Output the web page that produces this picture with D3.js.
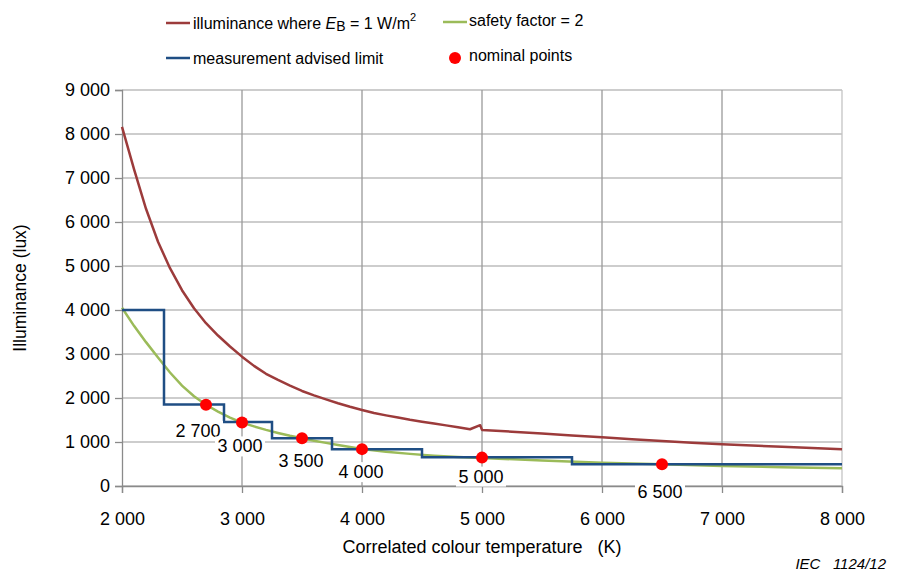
<!DOCTYPE html>
<html><head><meta charset="utf-8">
<script src="https://cdn.jsdelivr.net/npm/d3@7"></script>
<style>
body{margin:0;background:#fff;}
svg{display:block;font-family:"Liberation Sans",Arial,sans-serif;}
</style></head>
<body>
<svg id="chart" width="901" height="570"></svg>
<script>
// ---- data ----
const redT = [2000,2100,2200,2300,2400,2500,2600,2700,2800,2900,3000,3100,3200,3300,3400,3500,3600,3700,3800,3900,4000,4100,4200,4300,4400,4500,4600,4700,4800,4900,4985,5000,5250,5500,5750,6000,6250,6500,6750,7000,7250,7500,7750,8000];
const redE = [8160,7200,6300,5550,4950,4450,4040,3700,3420,3170,2940,2730,2550,2410,2280,2160,2060,1970,1880,1800,1727,1660,1605,1555,1505,1462,1420,1378,1335,1290,1382,1275,1235,1192,1150,1106,1065,1025,985,947,918,890,862,834];
const greenT = [2000,2100,2200,2300,2400,2500,2600,2700,2800,2900,3000,3100,3200,3300,3400,3500,3600,3700,3800,3900,4000,4200,4400,4600,4800,5000,5500,6000,6500,7000,7500,8000];
const greenE = [4050,3640,3270,2920,2580,2280,2040,1845,1690,1555,1440,1355,1275,1205,1140,1085,1030,980,930,885,840,780,730,690,660,635,580,530,495,455,428,402];
const stepT = [2000,2350,2850,3250,3750,4500,5750,8000];
const stepE = [4000,1850,1455,1085,838,652,495,495];
const nominalT = [2700,3000,3500,4000,5000,6500];
const nominalE = [1845,1445,1085,838,645,495];
const xTicks = [2000,3000,4000,5000,6000,7000,8000];
const yTicks = [0,1000,2000,3000,4000,5000,6000,7000,8000,9000];

// ---- layout ----
const svg = d3.select("#chart");
const L = 122, R = 842, T = 90, B = 486;
const x = d3.scaleLinear().domain([2000,8000]).range([L,R]);
const y = d3.scaleLinear().domain([0,9000]).range([B,T]);
const fmt = d => d3.format(",")(d).replace(/,/g," ");

// gridlines
svg.append("g").selectAll("line").data(yTicks).join("line")
  .attr("x1",L).attr("x2",R).attr("y1",d=>y(d)).attr("y2",d=>y(d))
  .attr("stroke","#bdbdbd").attr("stroke-width",1.3);
svg.append("g").selectAll("line").data(xTicks.slice(1)).join("line")
  .attr("x1",d=>x(d)).attr("x2",d=>x(d)).attr("y1",T).attr("y2",B)
  .attr("stroke",(d,i)=> d===8000 ? "#c4c4c4" : "#9a9a9a").attr("stroke-width",1.3);

// y axis
const yAx = svg.append("g").attr("transform",`translate(${L},0)`)
  .call(d3.axisLeft(y).tickValues(yTicks).tickFormat(fmt).tickSize(7).tickPadding(5));
yAx.select(".domain").attr("stroke","#8a8a8a").attr("stroke-width",1.3);
yAx.selectAll(".tick line").attr("stroke","#8a8a8a").attr("stroke-width",1.3);
yAx.selectAll("text").attr("font-size",18).attr("fill","#000").attr("font-family","Liberation Sans, Arial");

// x axis
const xAx = svg.append("g").attr("transform",`translate(0,${B})`)
  .call(d3.axisBottom(x).tickValues(xTicks).tickFormat(fmt).tickSize(7).tickPadding(19));
xAx.select(".domain").attr("stroke","#8a8a8a").attr("stroke-width",1.3);
xAx.selectAll(".tick line").attr("stroke","#8a8a8a").attr("stroke-width",1.3);
xAx.selectAll("text").attr("font-size",18).attr("fill","#000").attr("font-family","Liberation Sans, Arial");

// lines
const line = d3.line().x(d=>x(d[0])).y(d=>y(d[1]));
svg.append("path").datum(greenT.map((t,i)=>[t,greenE[i]]))
  .attr("d",line).attr("fill","none").attr("stroke","#9bbb59").attr("stroke-width",2.5);
svg.append("path").datum(redT.map((t,i)=>[t,redE[i]]))
  .attr("d",line).attr("fill","none").attr("stroke","#9c3b3b").attr("stroke-width",2.5).attr("stroke-linejoin","round");
svg.append("path").datum(stepT.map((t,i)=>[t,stepE[i]]))
  .attr("d",line.curve(d3.curveStepAfter)).attr("fill","none").attr("stroke","#1f4e84").attr("stroke-width",2.5);

// nominal points
svg.append("g").selectAll("circle").data(nominalT).join("circle")
  .attr("cx",d=>x(d)).attr("cy",(d,i)=>y(nominalE[i])).attr("r",6).attr("fill","#ff0000");

// labels
const lblDx = [-8,-2,-1,-1,-1,-2];
const lblDy = [26,24,23,23,19,28];
const lg = svg.append("g");
nominalT.forEach((t,i)=>{
  const cx = x(t)+lblDx[i], cy = y(nominalE[i])+lblDy[i];
  lg.append("rect").attr("x",cx-25).attr("y",cy-10).attr("width",50).attr("height",20).attr("fill","#fff");
  lg.append("text").attr("x",cx).attr("y",cy).attr("text-anchor","middle").attr("dominant-baseline","central")
    .attr("font-size",18).text(fmt(t));
});

// axis titles
svg.append("text").attr("transform","translate(20,288) rotate(-90)").attr("text-anchor","middle")
  .attr("dominant-baseline","central").attr("font-size",17.5).text("Illuminance (lux)");
svg.append("text").attr("x",482).attr("y",547).attr("text-anchor","middle").attr("dominant-baseline","central")
  .attr("font-size",18).style("white-space","pre").text("Correlated colour temperature   (K)");
svg.append("text").attr("x",886).attr("y",563).attr("text-anchor","end").attr("dominant-baseline","central")
  .attr("font-size",15).attr("font-style","italic").style("white-space","pre").text("IEC   1124/12");

// legend
const leg = svg.append("g").attr("font-size",16);
leg.append("line").attr("x1",166).attr("x2",190).attr("y1",23).attr("y2",23).attr("stroke","#9c3b3b").attr("stroke-width",2.5);
const t1 = leg.append("text").attr("x",193).attr("y",23).attr("dominant-baseline","central");
t1.append("tspan").text("illuminance where ");
t1.append("tspan").attr("font-style","italic").text("E");
t1.append("tspan").attr("baseline-shift","-3").attr("font-size",14).text("B");
t1.append("tspan").text(" = 1 W/m");
t1.append("tspan").attr("baseline-shift","6").attr("font-size",11).text("2");
leg.append("line").attr("x1",443).attr("x2",467).attr("y1",22).attr("y2",22).attr("stroke","#9bbb59").attr("stroke-width",2.5);
leg.append("text").attr("x",469).attr("y",20).attr("dominant-baseline","central").text("safety factor = 2");
leg.append("line").attr("x1",166).attr("x2",190).attr("y1",58).attr("y2",58).attr("stroke","#1f4e84").attr("stroke-width",2.5);
leg.append("text").attr("x",193).attr("y",58).attr("dominant-baseline","central").text("measurement advised limit");
leg.append("circle").attr("cx",455).attr("cy",58).attr("r",6).attr("fill","#ff0000");
leg.append("text").attr("x",469).attr("y",55).attr("dominant-baseline","central").text("nominal points");
</script>
</body></html>
